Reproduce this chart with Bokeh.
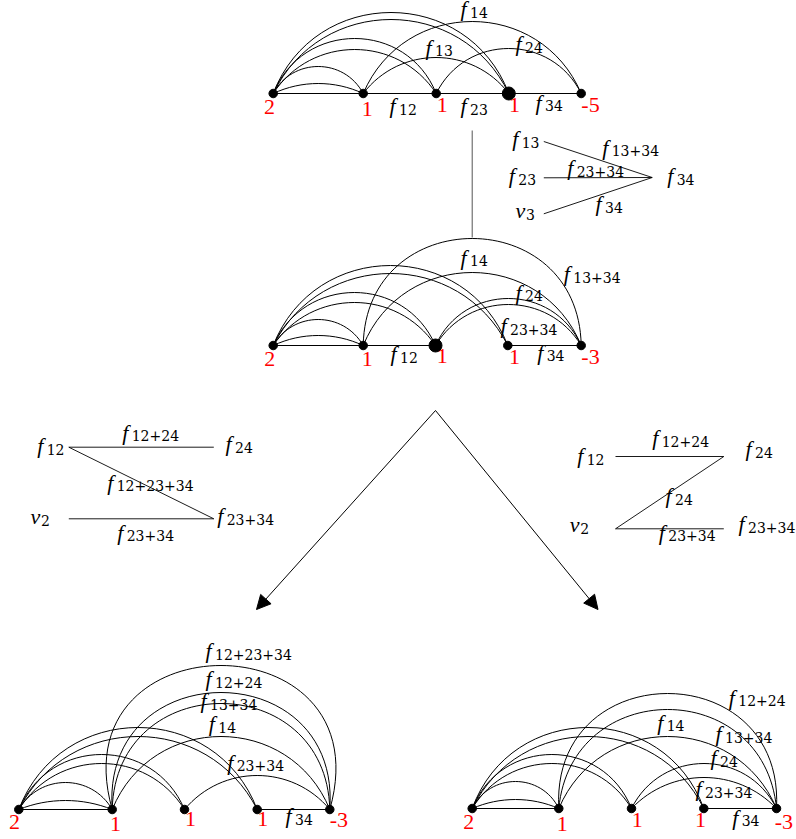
import numpy as np
from bokeh.plotting import figure
from bokeh.models import Range1d, Arrow, NormalHead, ColumnDataSource
from bokeh.core.properties import value
from bokeh.embed import file_html
from bokeh.resources import INLINE

# ---------------- data ----------------
# node weights (red numbers) of each graph
weights_top = ["2", "1", "1", "1", "-5"]
weights_mid = ["2", "1", "1", "1", "-3"]
weights_bl = ["2", "1", "1", "1", "-3"]
weights_br = ["2", "1", "1", "1", "-3"]

# arcs: (from node, to node, arc height)
arcs_top = [(0, 1, 10), (0, 1, 27), (0, 2, 55), (0, 2, 44), (0, 3, 81), (0, 3, 74),
            (1, 3, 36), (1, 4, 72), (2, 4, 45)]
arcs_mid = [(0, 1, 10), (0, 1, 26), (0, 2, 53), (0, 2, 43), (0, 3, 80), (0, 3, 72),
            (1, 4, 73), (1, 4, 107), (2, 4, 47), (2, 4, 41)]
arcs_bl = [(0, 1, 9), (0, 1, 27), (0, 2, 55), (0, 2, 46), (0, 3, 82), (0, 3, 73),
           (1, 4, 144), (1, 4, 117), (1, 4, 106), (1, 4, 73), (2, 4, 34)]
arcs_br = [(0, 1, 9), (0, 1, 27), (0, 2, 54), (0, 2, 45), (0, 3, 81), (0, 3, 72),
           (1, 4, 115), (1, 4, 99), (1, 4, 72), (2, 4, 45), (2, 4, 31)]

# straight edges along the base line
lines_top = [(0, 1), (1, 2), (2, 3), (3, 4)]
lines_mid = [(0, 1), (1, 2), (3, 4)]
lines_bl = [(0, 1), (3, 4)]
lines_br = [(0, 1), (3, 4)]

# emphasized (large) node in each graph
big_top = 3
big_mid = 2

# edge labels: (symbol, subscript)
labels_top = [("f", "14"), ("f", "13"), ("f", "24"), ("f", "12"), ("f", "23"), ("f", "34")]
labels_box2 = [("f", "13"), ("f", "23"), ("v", "3"), ("f", "13+34"), ("f", "23+34"), ("f", "34"), ("f", "34")]
labels_mid = [("f", "14"), ("f", "13+34"), ("f", "24"), ("f", "23+34"), ("f", "12"), ("f", "34")]
labels_box3 = [("f", "12"), ("f", "12+24"), ("f", "24"), ("f", "12+23+34"), ("v", "2"), ("f", "23+34"), ("f", "23+34")]
labels_box4 = [("f", "12"), ("f", "12+24"), ("f", "24"), ("f", "24"), ("v", "2"), ("f", "23+34"), ("f", "23+34")]
labels_bl = [("f", "12+23+34"), ("f", "12+24"), ("f", "13+34"), ("f", "14"), ("f", "23+34"), ("f", "34")]
labels_br = [("f", "12+24"), ("f", "14"), ("f", "13+34"), ("f", "24"), ("f", "23+34"), ("f", "34")]

# ---------------- layout ----------------
nodes_top = ([272.7, 362.7, 435.7, 508.3, 580.7], 93)
nodes_mid = ([272.7, 362.7, 435.0, 507.3, 580.7], 345)
nodes_bl = ([18.3, 111.7, 184.0, 256.7, 329.3], 809)
nodes_br = ([471.7, 558.3, 631.0, 703.3, 776.0], 808)

pos_labels_top = [(460, 15), (425, 53.5), (515, 50), (389, 112), (460, 112), (535, 108.7)]
pos_labels_box2 = [(511.7, 145), (508.3, 182), (515, 217), (601.7, 153.5), (566.7, 174), (595, 210), (666.7, 182)]
pos_labels_mid = [(460, 263.5), (563.3, 280), (515, 298.5), (500, 332), (390, 360), (536.7, 358.5)]
pos_labels_box3 = [(36.7, 452), (121.7, 438.5), (225, 450), (106.7, 488.5), (30, 523), (216.7, 522), (116.7, 538.5)]
pos_labels_box4 = [(576.7, 462), (651.7, 444), (745, 455), (665, 502), (569.3, 531), (658.3, 538.5), (738, 530)]
pos_labels_bl = [(205, 657), (205, 685), (200, 707), (208.3, 730), (226.7, 768.5), (285, 822)]
pos_labels_br = [(728.3, 703.5), (656.7, 728.5), (715, 740), (710, 764), (695, 795), (731.7, 823.5)]

pos_w_top = [(269, 113.3), (366.7, 115), (441.7, 111.7), (514, 111.7), (590, 111.7)]
pos_w_mid = [(269.3, 365), (366.7, 365), (441.7, 362.3), (514, 363.3), (590, 363.3)]
pos_w_bl = [(14, 828.3), (115, 830), (190, 825), (262.3, 825), (338.3, 826.7)]
pos_w_br = [(468.3, 828.3), (561.7, 830.7), (636.7, 826.7), (700, 826.7), (783.3, 828.3)]

SERIF = "Liberation Serif"
SUBFONT = "DejaVu Serif"
TEXT_DY = -7  # baseline correction for the renderer

p = figure(width=796, height=839, x_range=Range1d(0, 796), y_range=Range1d(839, 0),
           output_backend="svg", toolbar_location=None, min_border=0)
p.axis.visible = False
p.grid.visible = False
p.outline_line_color = None
p.background_fill_color = "white"
p.border_fill_color = "white"

bez = dict(x0=[], y0=[], x1=[], y1=[], cx0=[], cy0=[], cx1=[], cy1=[])
seg = dict(x0=[], y0=[], x1=[], y1=[])
dots = dict(x=[], y=[], size=[])
base_txt = dict(x=[], y=[], text=[])
sub_txt = dict(x=[], y=[], text=[])
red_txt = dict(x=[], y=[], text=[])


def add_graph(nodes, arcs, lines, weights, wpos, big=None):
    xs, y = nodes
    for a, b, h in arcs:
        x0, x1 = xs[a], xs[b]
        d = x1 - x0
        th = 2 * np.arctan(2 * h / d)
        L = h / (0.75 * np.sin(th))
        bez["x0"].append(x0); bez["y0"].append(y)
        bez["x1"].append(x1); bez["y1"].append(y)
        bez["cx0"].append(x0 + L * np.cos(th)); bez["cy0"].append(y - L * np.sin(th))
        bez["cx1"].append(x1 - L * np.cos(th)); bez["cy1"].append(y - L * np.sin(th))
    for a, b in lines:
        seg["x0"].append(xs[a]); seg["y0"].append(y)
        seg["x1"].append(xs[b]); seg["y1"].append(y)
    for i, x in enumerate(xs):
        dots["x"].append(x); dots["y"].append(y)
        dots["size"].append(13 if i == big else 8.5)
    for w, (wx, wy) in zip(weights, wpos):
        red_txt["x"].append(wx); red_txt["y"].append(wy + TEXT_DY); red_txt["text"].append(w)


def add_labels(labels, positions):
    for (b, s), (x, y) in zip(labels, positions):
        base_txt["x"].append(x); base_txt["y"].append(y + TEXT_DY); base_txt["text"].append(b)
        sub_txt["x"].append(x + (9.5 if b == "f" else 10.5)); sub_txt["y"].append(y + 3.5 + TEXT_DY)
        sub_txt["text"].append(s)


add_graph(nodes_top, arcs_top, lines_top, weights_top, pos_w_top, big_top)
add_graph(nodes_mid, arcs_mid, lines_mid, weights_mid, pos_w_mid, big_mid)
add_graph(nodes_bl, arcs_bl, lines_bl, weights_bl, pos_w_bl)
add_graph(nodes_br, arcs_br, lines_br, weights_br, pos_w_br)

for labs, pos in [(labels_top, pos_labels_top), (labels_box2, pos_labels_box2),
                  (labels_mid, pos_labels_mid), (labels_box3, pos_labels_box3),
                  (labels_box4, pos_labels_box4), (labels_bl, pos_labels_bl),
                  (labels_br, pos_labels_br)]:
    add_labels(labs, pos)

# small "exchange" diagrams (straight lines)
box_lines = dict(
    x0=[543.3, 543.3, 543.3, 68.3, 68.3, 68.3, 615.0, 723.3, 615.0],
    y0=[141.0, 177.3, 213.3, 446.7, 446.7, 518.3, 456.0, 456.0, 528.3],
    x1=[651.7, 651.7, 651.7, 213.3, 213.3, 213.3, 723.3, 615.0, 723.3],
    y1=[177.0, 177.0, 177.0, 446.7, 518.3, 518.3, 456.0, 528.3, 528.3],
)

p.bezier(source=ColumnDataSource(bez), x0="x0", y0="y0", x1="x1", y1="y1",
         cx0="cx0", cy0="cy0", cx1="cx1", cy1="cy1", line_color="black", line_width=1)
p.segment(source=ColumnDataSource(seg), x0="x0", y0="y0", x1="x1", y1="y1",
          line_color="black", line_width=1)
p.segment(source=ColumnDataSource(box_lines), x0="x0", y0="y0", x1="x1", y1="y1",
          line_color="black", line_width=0.9)
# vertical connector between the first two graphs
p.segment(x0=[471.7], y0=[130.0], x1=[471.7], y1=[237.0], line_color="#555555", line_width=1)
p.scatter(source=ColumnDataSource(dots), x="x", y="y", size="size",
          fill_color="black", line_color="black", marker="circle")

p.text(source=ColumnDataSource(base_txt), x="x", y="y", text="text",
       text_font=value(SERIF), text_font_style="italic", text_font_size="22px",
       text_baseline="alphabetic", text_align="left", text_color="black")
p.text(source=ColumnDataSource(sub_txt), x="x", y="y", text="text",
       text_font=value(SUBFONT), text_font_size="14px",
       text_baseline="alphabetic", text_align="left", text_color="black")
p.text(source=ColumnDataSource(red_txt), x="x", y="y", text="text",
       text_font=value(SERIF), text_font_size="22px",
       text_baseline="alphabetic", text_align="center", text_color="red")

for xe in (256, 597.5):
    p.add_layout(Arrow(end=NormalHead(size=14, fill_color="black", line_color="black", line_width=1),
                       x_start=435, y_start=410, x_end=xe, y_end=609,
                       line_color="black", line_width=1))

open("out.html", "w").write(file_html(p, INLINE))
